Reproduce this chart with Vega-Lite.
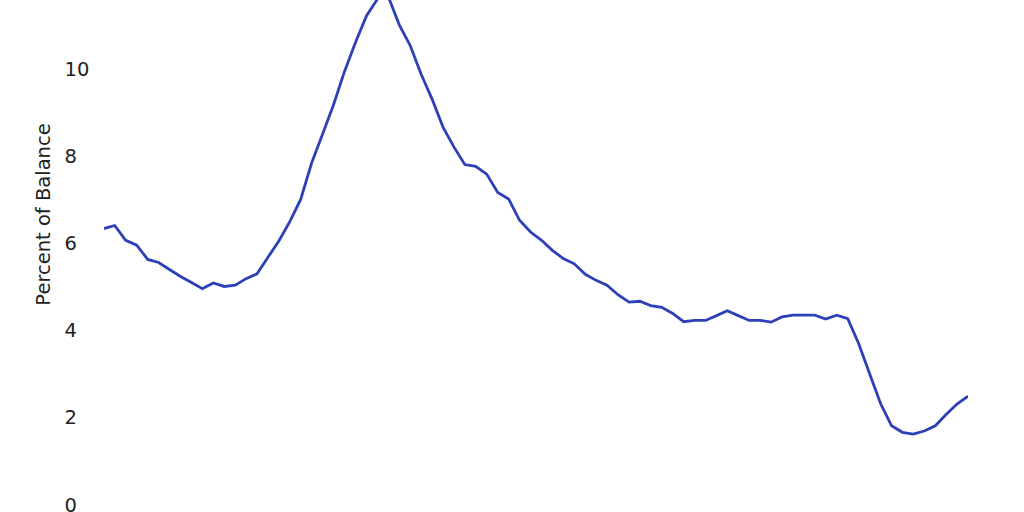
{
  "$schema": "https://vega.github.io/schema/vega-lite/v6.json",
  "autosize": {"type": "none"},
  "padding": {"left": 104, "top": 0, "right": 56, "bottom": 7},
  "width": 864,
  "height": 505,
  "background": "white",
  "config": {
    "view": {"stroke": null},
    "font": "DejaVu Sans"
  },
  "data": {
    "values": [
      {"quarter": "2003-01-01", "pct": 6.35},
      {"quarter": "2003-04-01", "pct": 6.42},
      {"quarter": "2003-07-01", "pct": 6.08},
      {"quarter": "2003-10-01", "pct": 5.97},
      {"quarter": "2004-01-01", "pct": 5.64},
      {"quarter": "2004-04-01", "pct": 5.57},
      {"quarter": "2004-07-01", "pct": 5.41},
      {"quarter": "2004-10-01", "pct": 5.25},
      {"quarter": "2005-01-01", "pct": 5.11},
      {"quarter": "2005-04-01", "pct": 4.97},
      {"quarter": "2005-07-01", "pct": 5.10},
      {"quarter": "2005-10-01", "pct": 5.02},
      {"quarter": "2006-01-01", "pct": 5.05},
      {"quarter": "2006-04-01", "pct": 5.20},
      {"quarter": "2006-07-01", "pct": 5.31},
      {"quarter": "2006-10-01", "pct": 5.69},
      {"quarter": "2007-01-01", "pct": 6.07},
      {"quarter": "2007-04-01", "pct": 6.51},
      {"quarter": "2007-07-01", "pct": 7.02},
      {"quarter": "2007-10-01", "pct": 7.86},
      {"quarter": "2008-01-01", "pct": 8.53},
      {"quarter": "2008-04-01", "pct": 9.20},
      {"quarter": "2008-07-01", "pct": 9.96},
      {"quarter": "2008-10-01", "pct": 10.63},
      {"quarter": "2009-01-01", "pct": 11.24},
      {"quarter": "2009-04-01", "pct": 11.62},
      {"quarter": "2009-07-01", "pct": 11.68},
      {"quarter": "2009-10-01", "pct": 11.03},
      {"quarter": "2010-01-01", "pct": 10.55},
      {"quarter": "2010-04-01", "pct": 9.90},
      {"quarter": "2010-07-01", "pct": 9.33},
      {"quarter": "2010-10-01", "pct": 8.68},
      {"quarter": "2011-01-01", "pct": 8.22},
      {"quarter": "2011-04-01", "pct": 7.82},
      {"quarter": "2011-07-01", "pct": 7.78},
      {"quarter": "2011-10-01", "pct": 7.60},
      {"quarter": "2012-01-01", "pct": 7.18},
      {"quarter": "2012-04-01", "pct": 7.03},
      {"quarter": "2012-07-01", "pct": 6.54},
      {"quarter": "2012-10-01", "pct": 6.27},
      {"quarter": "2013-01-01", "pct": 6.08},
      {"quarter": "2013-04-01", "pct": 5.85},
      {"quarter": "2013-07-01", "pct": 5.66},
      {"quarter": "2013-10-01", "pct": 5.54},
      {"quarter": "2014-01-01", "pct": 5.30},
      {"quarter": "2014-04-01", "pct": 5.16},
      {"quarter": "2014-07-01", "pct": 5.05},
      {"quarter": "2014-10-01", "pct": 4.83},
      {"quarter": "2015-01-01", "pct": 4.66},
      {"quarter": "2015-04-01", "pct": 4.68},
      {"quarter": "2015-07-01", "pct": 4.58},
      {"quarter": "2015-10-01", "pct": 4.54},
      {"quarter": "2016-01-01", "pct": 4.40},
      {"quarter": "2016-04-01", "pct": 4.21},
      {"quarter": "2016-07-01", "pct": 4.24},
      {"quarter": "2016-10-01", "pct": 4.24},
      {"quarter": "2017-01-01", "pct": 4.35},
      {"quarter": "2017-04-01", "pct": 4.46},
      {"quarter": "2017-07-01", "pct": 4.35},
      {"quarter": "2017-10-01", "pct": 4.24},
      {"quarter": "2018-01-01", "pct": 4.24},
      {"quarter": "2018-04-01", "pct": 4.20},
      {"quarter": "2018-07-01", "pct": 4.32},
      {"quarter": "2018-10-01", "pct": 4.36},
      {"quarter": "2019-01-01", "pct": 4.36},
      {"quarter": "2019-04-01", "pct": 4.36},
      {"quarter": "2019-07-01", "pct": 4.27},
      {"quarter": "2019-10-01", "pct": 4.36},
      {"quarter": "2020-01-01", "pct": 4.28},
      {"quarter": "2020-04-01", "pct": 3.71},
      {"quarter": "2020-07-01", "pct": 3.02},
      {"quarter": "2020-10-01", "pct": 2.33},
      {"quarter": "2021-01-01", "pct": 1.82},
      {"quarter": "2021-04-01", "pct": 1.67},
      {"quarter": "2021-07-01", "pct": 1.63},
      {"quarter": "2021-10-01", "pct": 1.70},
      {"quarter": "2022-01-01", "pct": 1.82},
      {"quarter": "2022-04-01", "pct": 2.08},
      {"quarter": "2022-07-01", "pct": 2.32},
      {"quarter": "2022-10-01", "pct": 2.50}
    ]
  },
  "mark": {
    "type": "line",
    "clip": true,
    "color": "#2e40b8",
    "strokeWidth": 2.8
  },
  "encoding": {
    "x": {
      "field": "quarter",
      "type": "temporal",
      "scale": {"nice": false},
      "axis": null
    },
    "y": {
      "field": "pct",
      "type": "quantitative",
      "scale": {"domain": [0, 11.6], "nice": false},
      "axis": {
        "title": "Percent of Balance",
        "titleFont": "DejaVu Sans",
        "titleFontSize": 19.5,
        "titleFontWeight": "normal",
        "titleColor": "#222222",
        "titleAngle": -90,
        "titleAlign": "center",
        "titleBaseline": "alphabetic",
        "titleX": -55,
        "titleY": 214,
        "values": [0, 2, 4, 6, 8, 10],
        "labelFont": "DejaVu Sans",
        "labelFontSize": 19.5,
        "labelColor": "#222222",
        "labelAlign": "left",
        "labelPadding": 40,
        "ticks": false,
        "tickSize": 0,
        "domain": false,
        "grid": false
      }
    }
  }
}
